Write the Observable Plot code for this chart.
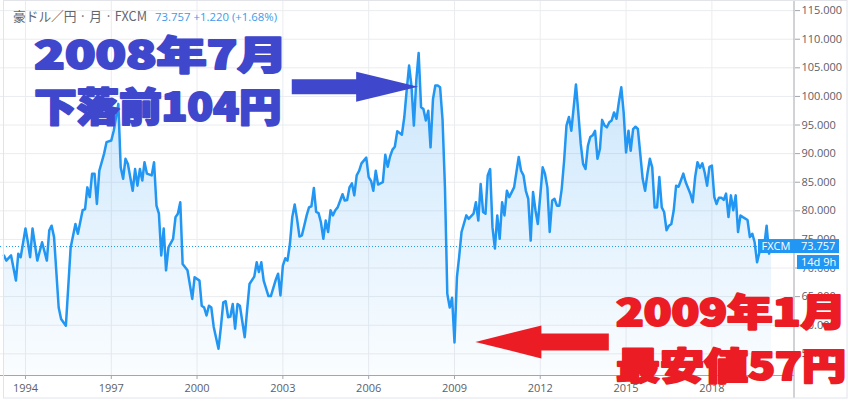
<!DOCTYPE html>
<html><head><meta charset="utf-8">
<script src="https://cdn.jsdelivr.net/npm/d3@7"></script>
<script src="https://cdn.jsdelivr.net/npm/@observablehq/plot@0.6"></script>
<style>
html,body{margin:0;padding:0;background:#fff;}
#chart{position:relative;width:859px;height:400px;overflow:hidden;}
#chart svg{display:block;}
</style></head><body><div id="chart"></div>
<script>
// ---- data (monthly close, AUD/JPY) ----
const dates = [
"1993-04","1993-05","1993-07","1993-09","1993-10","1993-11",
"1994-01","1994-02","1994-03","1994-04","1994-06","1994-08","1994-10","1994-11","1994-12",
"1995-01","1995-03","1995-04","1995-06","1995-08","1995-10","1995-11",
"1996-01","1996-02","1996-03","1996-04","1996-05","1996-06","1996-07","1996-08","1996-10","1996-11",
"1997-01","1997-02","1997-04","1997-05","1997-06","1997-07","1997-08","1997-10","1997-11","1997-12",
"1998-01","1998-02","1998-03","1998-04","1998-06","1998-07","1998-08","1998-09","1998-10","1998-11","1998-12",
"1999-01","1999-03","1999-04","1999-05","1999-06","1999-07","1999-09","1999-11","1999-12",
"2000-02","2000-03","2000-04","2000-05","2000-06","2000-07","2000-08","2000-10","2000-11","2000-12",
"2001-01","2001-02","2001-03","2001-04","2001-05","2001-06","2001-07","2001-09","2001-10","2001-11",
"2002-01","2002-02","2002-03","2002-04","2002-05","2002-07","2002-08","2002-10","2002-11","2002-12",
"2003-01","2003-02","2003-03","2003-04","2003-05","2003-06","2003-07","2003-08","2003-09","2003-10","2003-11","2003-12",
"2004-01","2004-02","2004-03","2004-04","2004-05","2004-06","2004-07","2004-08","2004-09","2004-10","2004-11","2004-12",
"2005-02","2005-03","2005-04","2005-05","2005-06","2005-07","2005-08","2005-09","2005-10","2005-12",
"2006-01","2006-02","2006-03","2006-04","2006-05","2006-07","2006-08","2006-09","2006-10","2006-11","2006-12",
"2007-01","2007-02","2007-03","2007-04","2007-05","2007-06","2007-07","2007-08","2007-09","2007-10","2007-11","2007-12",
"2008-01","2008-02","2008-03","2008-04","2008-05","2008-06","2008-07","2008-08","2008-09","2008-10","2008-11","2008-12",
"2009-01","2009-02","2009-03","2009-04","2009-06","2009-07","2009-09","2009-10","2009-11","2009-12",
"2010-01","2010-02","2010-03","2010-04","2010-05","2010-06","2010-07","2010-08","2010-09","2010-10","2010-11","2010-12",
"2011-02","2011-04","2011-05","2011-06","2011-07","2011-08","2011-09","2011-10","2011-11","2011-12",
"2012-02","2012-03","2012-04","2012-05","2012-06","2012-07","2012-08","2012-09","2012-10","2012-11","2012-12",
"2013-01","2013-02","2013-03","2013-04","2013-05","2013-06","2013-07","2013-08","2013-09","2013-10","2013-11","2013-12",
"2014-01","2014-02","2014-03","2014-04","2014-05","2014-06","2014-07","2014-08","2014-09","2014-10","2014-11","2014-12",
"2015-01","2015-02","2015-03","2015-04","2015-05","2015-06","2015-07","2015-08","2015-09","2015-10","2015-11","2015-12",
"2016-01","2016-02","2016-03","2016-04","2016-05","2016-06","2016-07","2016-08","2016-09","2016-10","2016-11","2016-12",
"2017-01","2017-02","2017-04","2017-05","2017-06","2017-07","2017-08","2017-09","2017-10","2017-11","2017-12",
"2018-01","2018-02","2018-03","2018-04","2018-05","2018-06","2018-07","2018-08","2018-09","2018-10","2018-11","2018-12",
"2019-01","2019-02","2019-04","2019-05","2019-06","2019-07","2019-08","2019-09","2019-10","2019-11","2019-12",
"2020-01","2020-02"
];
const values = [
72.2,71.3,72.2,67.8,72.5,71.9,
76.9,74.5,71.9,76.9,71.3,74.5,71.3,76.6,77.4,
75.4,63.1,61.1,59.9,73.6,77.7,76.0,
80.1,80.3,84.1,82.4,86.5,86.5,81.2,87.0,90.0,92.0,
92.3,94.0,98.7,87.6,85.6,89.1,88.2,83.5,87.3,84.4,
87.3,85.3,88.5,86.5,86.2,88.5,80.9,79.5,72.2,76.9,69.6,
73.6,75.1,78.9,79.5,81.5,70.7,69.6,64.6,68.4,
67.8,63.4,63.1,61.7,63.4,63.1,59.7,55.9,59.7,64.0,
64.2,61.4,61.5,63.7,59.4,63.7,63.4,57.9,62.6,67.2,
68.5,71.0,69.3,71.0,67.8,65.1,65.1,67.9,69.0,65.2,
70.4,71.7,71.3,74.2,78.9,81.1,78.6,75.5,75.7,77.4,79.2,80.6,
80.8,84.0,79.8,79.6,78.0,75.1,78.3,76.3,80.1,79.2,80.1,80.6,
82.9,81.8,81.9,84.1,84.8,82.7,86.2,87.0,88.3,89.3,
85.9,85.2,83.5,87.0,84.6,85.0,89.8,87.7,89.5,90.7,91.2,
93.9,93.6,93.3,96.4,101.0,105.4,101.9,94.9,102.8,107.6,98.1,97.8,
95.8,97.5,91.1,99.5,101.9,101.9,101.6,96.0,84.1,65.5,63.1,64.8,
57.0,68.4,71.9,76.3,79.2,78.6,79.5,81.5,78.3,84.7,
79.8,79.5,86.2,87.3,77.1,73.4,79.2,75.1,81.5,79.2,83.5,82.4,
84.1,89.4,87.0,86.2,83.5,82.1,74.8,83.3,80.1,77.7,
87.6,86.5,84.1,76.3,81.8,82.1,80.9,80.9,83.8,88.8,94.9,
96.4,94.0,97.8,102.1,97.2,91.7,88.2,87.3,91.4,92.9,93.2,94.0,
89.1,90.8,95.9,94.9,94.6,95.5,95.8,97.2,96.1,99.0,101.6,97.2,
90.2,94.0,90.5,94.3,94.7,94.3,90.0,85.6,83.5,86.5,89.1,87.6,
80.6,80.6,85.9,80.6,79.8,76.6,77.4,77.7,80.1,84.4,84.2,85.3,
86.5,85.0,83.0,81.5,85.9,88.5,87.5,88.3,86.7,84.4,87.7,
87.9,82.4,81.2,82.3,82.3,81.9,83.0,78.9,82.7,80.1,82.7,76.3,
79.2,78.9,78.4,75.4,76.0,74.5,71.0,72.8,73.1,73.9,77.4,
72.5,73.757
];
const yTicks = [55,60,65,70,75,80,85,90,95,100,105,110,115];
const xTickYears = [1994,1997,2000,2003,2006,2009,2012,2015,2018];
const headerTitle = "豪ドル／円 · 月 · FXCM";
const headerQuote = "73.757 +1.220 (+1.68%)";
const sourceLabel = "FXCM";
const countdownLabel = "14d 9h";
const noteHighLines = ["2008年7月", "下落前104円"];
const noteLowLines = ["2009年1月", "最安値57円"];
// annotation anchors in data space
const noteHighAnchor = {date: "1994-05", values: [104.7, 95.6]};
const noteLowAnchor = {date: "2014-09", values: [59.77, 50.33]};
const arrowHigh = {from: "2003-05", to: "2007-10", value: 101.6};
const arrowLow = {from: "2014-06", to: "2009-10", value: 57.0};

// ---- styles ----
const FONT = "'Open Sans','Noto Sans CJK JP',sans-serif";
const CJK = "'Noto Sans CJK JP',sans-serif";
const LINE = "#2196f3";
const GRID = "#ebecef";
const AXIS = "#a3a6ae";
const BLUE = "#3f48cc";
const RED = "#ec1c24";

const parse = d3.utcParse("%Y-%m");
const data = dates.map((d, i) => ({date: parse(d), value: values[i]}));
const last = data[data.length - 1];
const xDomain = [new Date(Date.UTC(1993, 1, 16)), new Date(Date.UTC(2020, 10, 21))];
const yDomain = [51.21, 116.77];
const xTicks = xTickYears.map(y => new Date(Date.UTC(y, 0, 1)));

const svgEl = Plot.plot({
  width: 859, height: 400,
  marginTop: 0, marginRight: 65, marginBottom: 25, marginLeft: 0,
  x: {type: "utc", domain: xDomain, label: null},
  y: {domain: yDomain, label: null},
  style: {fontFamily: FONT, background: "transparent"},
  marks: [
    Plot.gridX(xTicks, {stroke: GRID, strokeOpacity: 1}),
    Plot.gridY(yTicks, {stroke: GRID, strokeOpacity: 1}),
    Plot.areaY(data, {x: "date", y1: yDomain[0], y2: "value", fill: "url(#areaGrad)"}),
    Plot.ruleY([last.value], {stroke: LINE, strokeWidth: 1, strokeDasharray: "1,2"}),
    Plot.lineY(data, {x: "date", y: "value", stroke: LINE, strokeWidth: 2.5, strokeLinejoin: "round"}),
    Plot.ruleY([yDomain[0]], {stroke: AXIS}),
    Plot.axisX(xTicks, {anchor: "bottom", tickSize: 4, tickPadding: 5, tickFormat: d3.utcFormat("%Y"), fontSize: 11, stroke: AXIS, fill: "#5d6068"}),
    Plot.axisY(yTicks, {anchor: "right", tickSize: 5, tickPadding: 2, tickFormat: d3.format(".3f"), fontSize: 11, stroke: AXIS, fill: "#5d6068"})
  ]
});
document.getElementById("chart").appendChild(svgEl);

const sx = svgEl.scale("x"), sy = svgEl.scale("y");
const X = d => sx.apply(typeof d === "string" ? parse(d) : d);
const Y = v => sy.apply(v);
const svg = d3.select(svgEl);

// gradient for area
const defs = svg.insert("defs", ":first-child");
const grad = defs.append("linearGradient").attr("id", "areaGrad")
  .attr("gradientUnits", "userSpaceOnUse").attr("x1", 0).attr("x2", 0)
  .attr("y1", Y(yDomain[1])).attr("y2", Y(yDomain[0]));
grad.append("stop").attr("offset", 0).attr("stop-color", LINE).attr("stop-opacity", 0.28);
grad.append("stop").attr("offset", 1).attr("stop-color", LINE).attr("stop-opacity", 0.02);

const xr = X(xDomain[1]);
// pane separator / price axis line and outer frame
svg.append("line").attr("x1", xr).attr("x2", xr).attr("y1", 0).attr("y2", 398).attr("stroke", AXIS);
svg.append("rect").attr("x", 3.5).attr("y", 0.5).attr("width", 843.5).attr("height", 397.5)
  .attr("fill", "none").attr("stroke", "#e2e4ea");

// overlays: a group that resets Plot's inherited text-anchor
const over = svg.append("g").attr("text-anchor", "start");

// last price labels
const py = Y(last.value);
const lab = over.append("g").attr("font-family", FONT).attr("font-size", 11).attr("fill", "#fff");
lab.append("rect").attr("x", xr - 36).attr("y", py - 7).attr("width", 36).attr("height", 14).attr("fill", LINE);
lab.append("text").attr("x", xr - 18).attr("y", py + 4).attr("text-anchor", "middle").text(sourceLabel);
lab.append("rect").attr("x", xr).attr("y", py - 7).attr("width", 45).attr("height", 14).attr("fill", LINE);
lab.append("text").attr("x", xr + 7).attr("y", py + 4).text(d3.format(".3f")(last.value));
lab.append("rect").attr("x", xr + 3).attr("y", py + 9).attr("width", 42).attr("height", 14).attr("fill", LINE);
lab.append("text").attr("x", xr + 7).attr("y", py + 20).text(countdownLabel);

// header
over.append("text").attr("x", 13).attr("y", 20.5).attr("font-family", CJK).attr("font-size", 13)
  .attr("fill", "#62666e").attr("textLength", 134).attr("lengthAdjust", "spacingAndGlyphs").text(headerTitle);
over.append("text").attr("x", 155).attr("y", 20.5).attr("font-family", FONT).attr("font-size", 11.5)
  .attr("fill", "#3d9be9").attr("textLength", 122).attr("lengthAdjust", "spacingAndGlyphs").text(headerQuote);

// arrows
function blockArrow(a, h, H, L, color) {
  const x0 = X(a.from), x1 = X(a.to), y = Y(a.value);
  const dir = Math.sign(x1 - x0), xb = x1 - dir * L;
  const pts = [[x0, y - h], [xb, y - h], [xb, y - H], [x1, y], [xb, y + H], [xb, y + h], [x0, y + h]];
  over.append("polygon").attr("points", pts.map(p => p.join(",")).join(" ")).attr("fill", color);
}
blockArrow(arrowHigh, 7.5, 15, 62, BLUE);
blockArrow(arrowLow, 8.5, 16.5, 66, RED);

// annotation texts
function note(lines, anchor, sizes, widths, color) {
  lines.forEach((t, i) => {
    over.append("text").attr("x", X(anchor.date)).attr("y", Y(anchor.values[i]))
      .attr("font-family", CJK).attr("font-weight", 900).attr("font-size", sizes[i])
      .attr("fill", color).attr("stroke", color).attr("stroke-width", 2.2).attr("stroke-linejoin", "round")
      .attr("textLength", widths[i]).attr("lengthAdjust", "spacingAndGlyphs").text(t);
  });
}
note(noteHighLines, noteHighAnchor, [39, 39], [253, 247], BLUE);
note(noteLowLines, noteLowAnchor, [37, 37], [230, 230], RED);
</script></body></html>
